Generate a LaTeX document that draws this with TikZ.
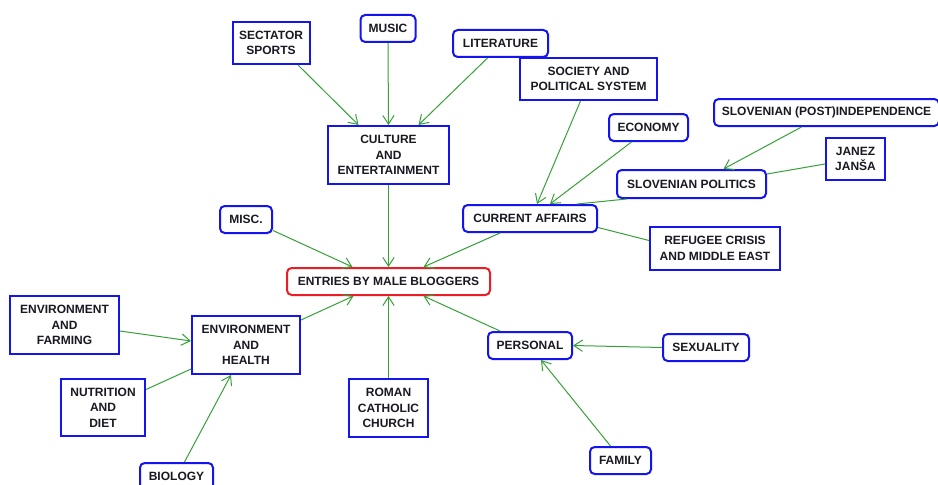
\documentclass[tikz,border=0pt]{standalone}
\usepackage{fontspec}
\setmainfont{Liberation Sans}
\usetikzlibrary{arrows.meta,calc}
\definecolor{bbl}{RGB}{20,20,240}
\definecolor{rrd}{RGB}{235,30,40}
\definecolor{grn}{RGB}{55,160,55}
\definecolor{txt}{RGB}{25,25,35}
\newcommand\pxu{0.75pt}
\tikzset{
  bx/.style 2 args={draw=bbl, line width=1.5pt, fill=white, align=center,
    font=\bfseries\fontsize{9}{11.6}\selectfont, text=txt, inner sep=1pt,
    minimum width=#1*0.75pt, minimum height=#2*0.75pt},
  rbx/.style 2 args={bx={#1}{#2}, rounded corners=3.5pt},
  ebx/.style 2 args={bx={#1}{#2}, draw=rrd, rounded corners=3.5pt},
  ln/.style={draw=grn, line width=0.75pt},
  ar/.style={ln, -{Straight Barb[length=6.5pt,width=8.5pt]}},
}
\begin{document}
\begin{tikzpicture}[x=0.75pt,y=-0.75pt]
\useasboundingbox[fill=white] (0,0) rectangle (938,485);
% nodes
\node[bx={77}{42}]   (sports) at (271,43) {SECTATOR\\SPORTS};
\node[rbx={55}{27}]  (music) at (388,28.5) {MUSIC};
\node[rbx={95}{27}]  (lit) at (500.5,43.5) {LITERATURE};
\node[bx={121}{58}]  (culture) at (388.5,155) {CULTURE\\AND\\ENTERTAINMENT};
\node[bx={137}{42}]  (society) at (588.5,79) {SOCIETY AND\\POLITICAL SYSTEM};
\node[rbx={79}{27}]  (economy) at (648.5,127.5) {ECONOMY};
\node[rbx={225}{27}] (indep) at (826.5,112.5) {SLOVENIAN (POST)INDEPENDENCE};
\node[bx={59}{42}]   (janez) at (855.5,159) {JANEZ\\JANŠA};
\node[rbx={149}{28}] (slovpol) at (691.5,184) {SLOVENIAN POLITICS};
\node[rbx={134}{27}] (current) at (530,218.5) {CURRENT AFFAIRS};
\node[bx={130}{43}]  (refugee) at (715,248.5) {REFUGEE CRISIS\\AND MIDDLE EAST};
\node[rbx={52}{27}]  (misc) at (246,219.5) {MISC.};
\node[ebx={203}{27}] (entries) at (388.5,281.5) {ENTRIES BY MALE BLOGGERS};
\node[bx={109}{58}]  (farming) at (64.5,325) {ENVIRONMENT\\AND\\FARMING};
\node[bx={108}{58}]  (health) at (246,345) {ENVIRONMENT\\AND\\HEALTH};
\node[bx={84}{57}]   (nutrition) at (103,407.5) {NUTRITION\\AND\\DIET};
\node[rbx={73}{27}]  (biology) at (176.5,476.5) {BIOLOGY};
\node[bx={79}{58}]   (roman) at (388.5,408) {ROMAN\\CATHOLIC\\CHURCH};
\node[rbx={84}{27}]  (personal) at (530,345.5) {PERSONAL};
\node[rbx={86}{27}]  (sexuality) at (706,347.5) {SEXUALITY};
\node[rbx={61}{27}]  (family) at (620.5,460.5) {FAMILY};
% connectors
\draw[ar] ([xshift=27*\pxu]sports.south) -- ([xshift=-30*\pxu]culture.north);
\draw[ar] (music.south) -- (culture.north);
\draw[ar] ([xshift=-13*\pxu]lit.south) -- ([xshift=30*\pxu]culture.north);
\draw[ar] (culture.south) -- (entries.north);
\draw[ar] ([xshift=-8*\pxu]society.south) -- ([xshift=7*\pxu]current.north);
\draw[ar] ([xshift=-17*\pxu]economy.south) -- ([xshift=20*\pxu]current.north);
\draw[ar] ([xshift=-25*\pxu]indep.south) -- ([xshift=32*\pxu]slovpol.north);
\draw[ln] ([yshift=-5*\pxu]janez.west) -- ([yshift=10*\pxu]slovpol.east);
\draw[ln] ([xshift=-65*\pxu]slovpol.south) -- ([xshift=47*\pxu]current.north);
\draw[ln] ([yshift=8*\pxu]refugee.west) -- ([yshift=-9*\pxu]current.east);
\draw[ar] ([yshift=-11*\pxu]misc.east) -- ([xshift=-36*\pxu]entries.north);
\draw[ar] ([xshift=-30*\pxu]current.south) -- ([xshift=35*\pxu]entries.north);
\draw[ar] ([yshift=-5*\pxu]health.north east) -- ([xshift=-35*\pxu]entries.south);
\draw[ar] ([yshift=-6*\pxu]farming.east) -- ([yshift=4*\pxu]health.west);
\draw[ln] ([yshift=18*\pxu]nutrition.east) -- ([yshift=-24*\pxu]health.west);
\draw[ar] ([xshift=8*\pxu]biology.north) -- ([xshift=-15*\pxu]health.south);
\draw[ar] (roman.north) -- (entries.south);
\draw[ar] ([xshift=-30*\pxu]personal.north) -- ([xshift=35*\pxu]entries.south);
\draw[ar] (sexuality.west) -- (personal.east);
\draw[ar] ([xshift=-10*\pxu]family.north) -- ([xshift=11*\pxu]personal.south);
\end{tikzpicture}
\end{document}
